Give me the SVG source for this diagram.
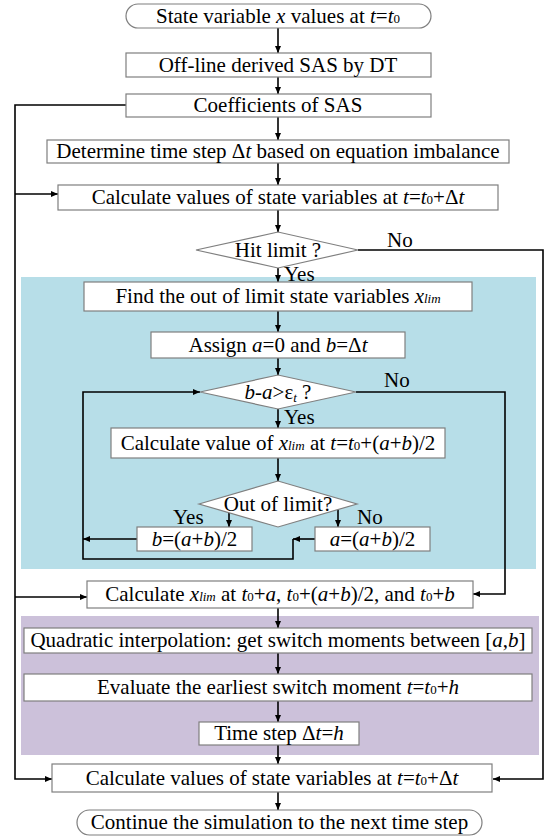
<svg xmlns="http://www.w3.org/2000/svg" width="546" height="837" viewBox="0 0 546 837">
<style>
.t{text-anchor:middle}
.i{font-style:italic}
.s{font-size:13px}
.b{fill:#fff;stroke:#7f7f7f;stroke-width:1.2}
.c{fill:none;stroke:#000;stroke-width:1.6}
</style>
<defs>
<marker id="ah" markerWidth="8" markerHeight="8" refX="7" refY="4" orient="auto" markerUnits="userSpaceOnUse">
<path d="M0,1 L7,4 L0,7 Z" fill="#000"/>
</marker>
</defs>
<g font-family="Liberation Serif" font-size="21" fill="#000">
<rect x="21" y="277" width="515" height="292" fill="#B7DEE8"/>
<rect x="21" y="616" width="518" height="139" fill="#CCC1DA"/>
<g id="connectors" class="c" marker-end="url(#ah)">
<path d="M278,28 V53"/>
<path d="M278,77 V94"/>
<path d="M278,117 V140"/>
<path d="M278,163 V185"/>
<path d="M278,210 V232"/>
<path d="M278,268 V282"/>
<path d="M278,311 V332"/>
<path d="M278,358 V375"/>
<path d="M278,409 V428"/>
<path d="M278,458 V481"/>
<path d="M229,513 V527"/>
<path d="M338,510 V527"/>
<path d="M137,539 H83"/>
<path d="M315,539 H293"/>
<path d="M293,539 V559 H83 V392 H200"/>
<path d="M356,392 H505 V594 H473"/>
<path d="M358,250 H543 V779 H493"/>
<path d="M126,105 H15 V779 H52"/>
<path d="M15,194 H58"/>
<path d="M15,597 H87"/>
<path d="M278,608 V628"/>
<path d="M278,653 V674"/>
<path d="M278,701 V722"/>
<path d="M278,745 V764"/>
<path d="M278,792 V810"/>
</g>
<g id="start"><rect class="b" x="126" y="4" width="305" height="24" rx="12"/><text class="t" x="278" y="23">State variable <tspan class="i">x</tspan> values at <tspan class="i">t</tspan>=<tspan class="i">t</tspan><tspan class="s">0</tspan></text></g>
<g id="offline"><rect class="b" x="126" y="53" width="305" height="24"/><text class="t" x="278" y="72">Off-line derived SAS by DT</text></g>
<g id="coef"><rect class="b" x="126" y="94" width="305" height="23"/><text class="t" x="278" y="112">Coefficients of SAS</text></g>
<g id="determine"><rect class="b" x="47" y="140" width="462" height="23"/><text class="t" x="278" y="158">Determine time step Δ<tspan class="i">t</tspan> based on equation imbalance</text></g>
<g id="calc1"><rect class="b" x="58" y="185" width="440" height="25"/><text class="t" x="278" y="204">Calculate values of state variables at <tspan class="i">t</tspan>=<tspan class="i">t</tspan><tspan class="s">0</tspan>+Δ<tspan class="i">t</tspan></text></g>
<g id="hit"><polygon class="b" points="196,250 278,232 358,250 278,268"/><text class="t" x="278" y="257">Hit limit ?</text></g>
<text x="387" y="247">No</text>
<text x="284" y="281">Yes</text>
<g id="find"><rect class="b" x="84" y="282" width="388" height="29"/><text class="t" x="278" y="303">Find the out of limit state variables <tspan class="i">x</tspan><tspan class="i s">lim</tspan></text></g>
<g id="assign"><rect class="b" x="151" y="332" width="254" height="26"/><text class="t" x="278" y="352">Assign <tspan class="i">a</tspan>=0 and <tspan class="i">b</tspan>=Δ<tspan class="i">t</tspan></text></g>
<g id="ba"><polygon class="b" points="200,392 278,375 356,392 278,409"/><text class="t" x="278" y="399"><tspan class="i">b</tspan>-<tspan class="i">a</tspan>&gt;ε<tspan class="i s" dy="3">t</tspan><tspan dy="-3"> ?</tspan></text></g>
<text x="384" y="387">No</text>
<text x="284" y="424">Yes</text>
<g id="calcval"><rect class="b" x="111" y="428" width="334" height="30"/><text class="t" x="278" y="450">Calculate value of <tspan class="i">x</tspan><tspan class="i s">lim</tspan> at <tspan class="i">t</tspan>=<tspan class="i">t</tspan><tspan class="s">0</tspan>+(<tspan class="i">a</tspan>+<tspan class="i">b</tspan>)/2</text></g>
<g id="out"><polygon class="b" points="199,504 278,481 357,504 278,527"/><text class="t" x="278" y="511">Out of limit?</text></g>
<text x="173" y="524">Yes</text>
<text x="357" y="524">No</text>
<g id="bbox"><rect class="b" x="137" y="527" width="115" height="24"/><text class="t" x="194.5" y="546"><tspan class="i">b</tspan>=(<tspan class="i">a</tspan>+<tspan class="i">b</tspan>)/2</text></g>
<g id="abox"><rect class="b" x="315" y="527" width="115" height="24"/><text class="t" x="372.5" y="546"><tspan class="i">a</tspan>=(<tspan class="i">a</tspan>+<tspan class="i">b</tspan>)/2</text></g>
<g id="calcx"><rect class="b" x="87" y="581" width="386" height="27"/><text class="t" x="280" y="601">Calculate <tspan class="i">x</tspan><tspan class="i s">lim</tspan> at <tspan class="i">t</tspan><tspan class="s">0</tspan>+<tspan class="i">a</tspan>, <tspan class="i">t</tspan><tspan class="s">0</tspan>+(<tspan class="i">a</tspan>+<tspan class="i">b</tspan>)/2, and <tspan class="i">t</tspan><tspan class="s">0</tspan>+<tspan class="i">b</tspan></text></g>
<g id="quad"><rect class="b" x="24" y="628" width="508" height="25"/><text class="t" x="278" y="647">Quadratic interpolation: get switch moments between [<tspan class="i">a</tspan>,<tspan class="i">b</tspan>]</text></g>
<g id="eval"><rect class="b" x="24" y="674" width="508" height="27"/><text class="t" x="278" y="694">Evaluate the earliest switch moment <tspan class="i">t</tspan>=<tspan class="i">t</tspan><tspan class="s">0</tspan>+<tspan class="i">h</tspan></text></g>
<g id="timestep"><rect class="b" x="199" y="722" width="160" height="23"/><text class="t" x="279" y="740">Time step Δ<tspan class="i">t</tspan>=<tspan class="i">h</tspan></text></g>
<g id="calc2"><rect class="b" x="52" y="764" width="440" height="28"/><text class="t" x="272" y="785">Calculate values of state variables at <tspan class="i">t</tspan>=<tspan class="i">t</tspan><tspan class="s">0</tspan>+Δ<tspan class="i">t</tspan></text></g>
<g id="end"><rect class="b" x="77" y="810" width="405" height="25" rx="12.5"/><text class="t" x="279.5" y="829">Continue the simulation to the next time step</text></g>
</g>
</svg>
